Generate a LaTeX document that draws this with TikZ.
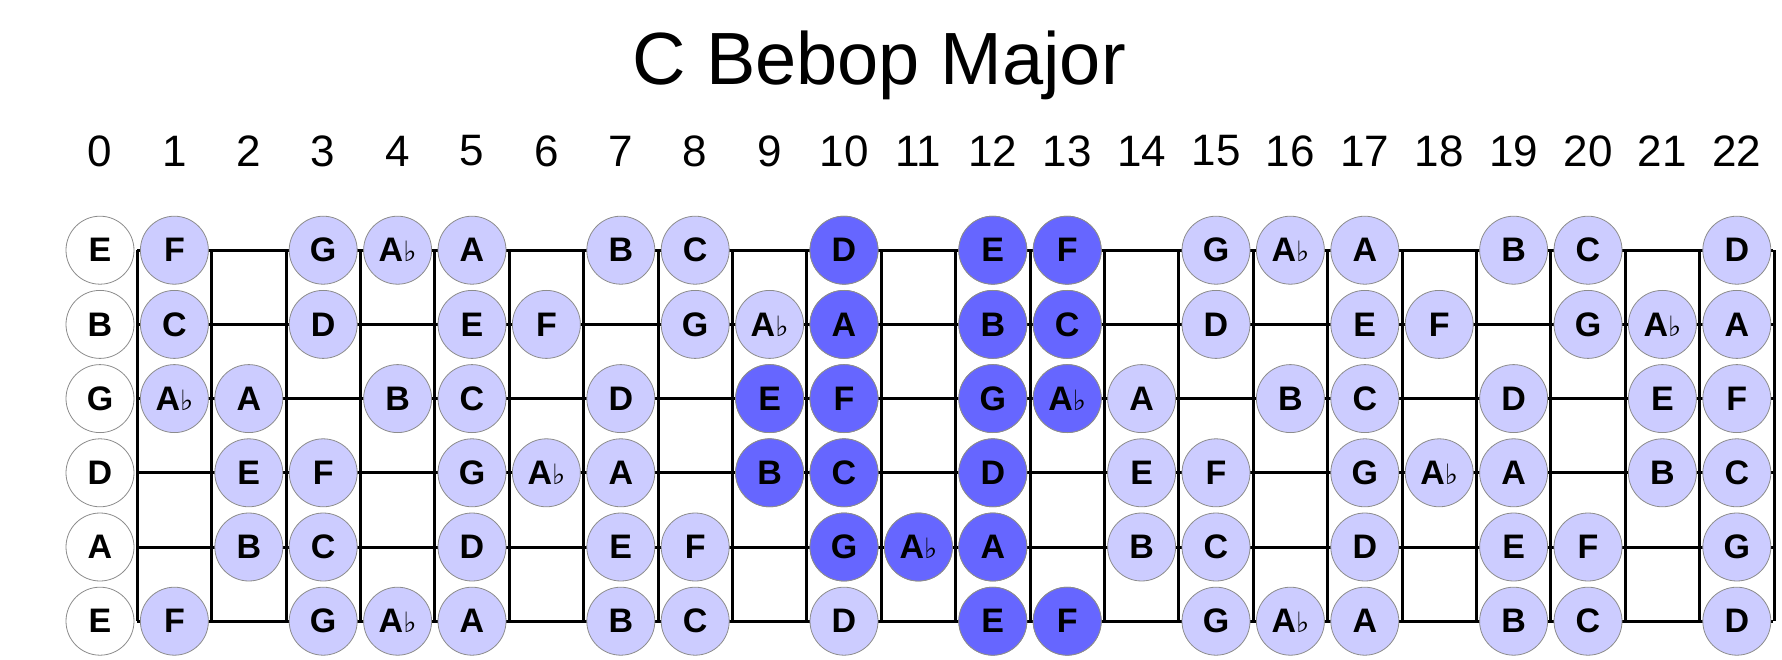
\documentclass[tikz,border=0pt]{standalone}
\usepackage{fontspec}
\setmainfont{Liberation Sans}
\newfontfamily\flatfont{DejaVu Sans}
\usepackage{tikz}
\definecolor{light}{RGB}{204,204,255}
\definecolor{dark}{RGB}{102,102,255}
\tikzset{
  note/.style={circle, draw=black!45, line width=0.8pt, minimum size=68pt, inner sep=0pt, font=\fontsize{34}{34}\selectfont\bfseries},
  open/.style={note, fill=white},
  scalenote/.style={note, fill=light},
  rootbox/.style={note, fill=dark},
  fretnum/.style={font=\fontsize{44}{44}\selectfont},
  wire/.style={line width=3pt, black}
}
\newcommand{\flt}{A{\flatfont\mdseries\fontsize{28}{28}\selectfont\char"266D}}
\newcommand{\notename}[1]{%
  \ifcase#1 C\or D\flt\or D\or E\flt\or E\or F\or G\flt\or G\or \flt\or A\or B\flt\or B\fi}

\begin{document}
\begin{tikzpicture}[x=1pt, y=-1pt]
	\useasboundingbox (0,0) rectangle (1782,660);
	\node [font=\fontsize{74}{74}\selectfont] (title) at (879,65) {C Bebop Major};
	% fret numbers
	\foreach \f in {0,...,22}
		\node [fretnum] (num\f) at (100+74.4*\f,151) {\f};
	% strings and frets
	\foreach \s in {1,...,6}
		\draw [wire] (137.2,176+74.2*\s) -- (1773.4,176+74.2*\s);
	\foreach \k in {0,...,22}
		\draw [wire] (137.2+74.4*\k,250.2) -- (137.2+74.4*\k,621);
	% open strings and scale notes
	\foreach \s/\o/\name in {1/4/E,2/11/B,3/7/G,4/2/D,5/9/A,6/4/E} {
		\node [open] (n-\s-0) at (100,176+74.2*\s) {\name};
		\foreach \f in {1,...,22} {
			\pgfmathtruncatemacro\n{mod(\o+\f,12)}
			\pgfmathtruncatemacro\ok{{1,0,1,0,1,1,0,1,1,1,0,1}[\n]}
			\ifnum\ok=1
				\node [scalenote] (n-\s-\f) at (100+74.4*\f,176+74.2*\s) {\notename{\n}};
			\fi
		}
	}
	% highlighted box
	\foreach \s/\o/\f in {1/4/10,1/4/12,1/4/13,2/11/10,2/11/12,2/11/13,
		3/7/9,3/7/10,3/7/12,3/7/13,4/2/9,4/2/10,4/2/12,
		5/9/10,5/9/11,5/9/12,6/4/12,6/4/13} {
		\pgfmathtruncatemacro\n{mod(\o+\f,12)}
		\node [rootbox] (r-\s-\f) at (100+74.4*\f,176+74.2*\s) {\notename{\n}};
	}
\end{tikzpicture}
\end{document}
